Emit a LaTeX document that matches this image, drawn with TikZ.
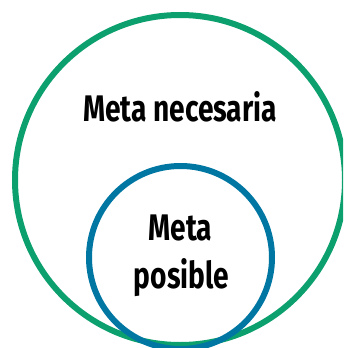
\documentclass[tikz,border=0pt]{standalone}
\usepackage{fontspec}
\setmainfont[FakeStretch=0.76]{Fira Sans}
\definecolor{ringgreen}{RGB}{12,160,110}
\definecolor{ringblue}{RGB}{0,118,163}
\tikzset{
  ring/.style={circle, draw, line width=6pt, inner sep=0pt, fill=none},
  label/.style={font=\fontsize{37}{44}\selectfont\bfseries, anchor=base, inner sep=0pt, text=black}
}
\begin{document}
\begin{tikzpicture}[x=1pt,y=-1pt]
\useasboundingbox (0,0) rectangle (343,348);
\clip (0,0) rectangle (343,348);
\node[ring, draw=ringgreen, minimum size=330pt] (outer) at (180,180) {};
\node[ring, draw=ringblue, minimum size=183pt] (inner) at (180.5,257.5) {};
\node[label] (necesaria) at (180,121) {Meta necesaria};
\node[label] (meta) at (180.5,240) {Meta};
\node[label] (posible) at (181.5,288) {posible};
\end{tikzpicture}
\end{document}
